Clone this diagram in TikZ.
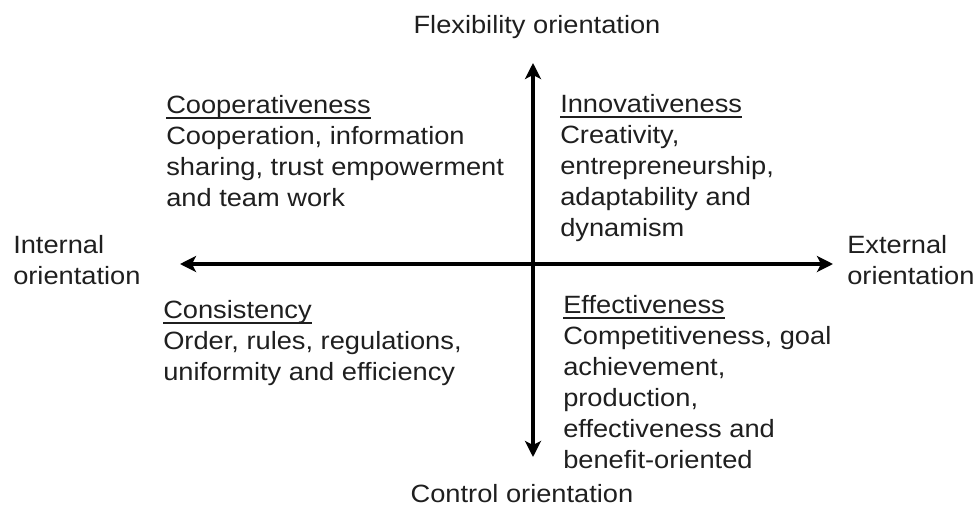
\documentclass[tikz,border=0pt]{standalone}
\usepackage{fontspec}
\setmainfont{Liberation Sans}[FakeStretch=1.09]
\usepackage{tikz}
\usetikzlibrary{arrows.meta}

\newcommand{\headline}[1]{\setbox0\hbox{#1}\makebox[0pt][l]{\rule[-4pt]{\wd0}{1.3pt}}\box0}

\begin{document}
\begin{tikzpicture}[
  x=0.75pt, y=-0.75pt,
  lbl/.style={inner sep=0pt, align=left, text=black!88,
              font=\fontsize{18.75}{23.25}\selectfont},
  quad/.style={lbl, anchor=north west},
  arr/.style={<->, >={Stealth[length=12pt, width=12pt, inset=3pt]}, line width=2.5pt},
]
\useasboundingbox (0,0) rectangle (975,507);
\coordinate (flextip) at (533,63);
\coordinate (ctrltip) at (533,457);
\coordinate (inttip) at (180,264);
\coordinate (exttip) at (833,264);
\draw[arr] (flextip) -- (ctrltip);
\draw[arr] (inttip) -- (exttip);
\node[lbl, anchor=base] (flex) at (537,33) {Flexibility orientation};
\node[lbl, anchor=base] (ctrl) at (522,502) {Control orientation};
\node[quad] (internal) at (13,235) {Internal\\orientation};
\node[quad] (external) at (847,235) {External\\orientation};
\node[quad] (coop) at (166,95) {\headline{Cooperativeness}\\Cooperation, information\\sharing, trust empowerment\\and team work};
\node[quad] (innov) at (560,94) {\headline{Innovativeness}\\Creativity,\\entrepreneurship,\\adaptability and\\dynamism};
\node[quad] (cons) at (163,300) {\headline{Consistency}\\Order, rules, regulations,\\uniformity and efficiency};
\node[quad] (effect) at (563,295) {\headline{Effectiveness}\\Competitiveness, goal\\achievement,\\production,\\effectiveness and\\benefit-oriented};
\end{tikzpicture}
\end{document}
